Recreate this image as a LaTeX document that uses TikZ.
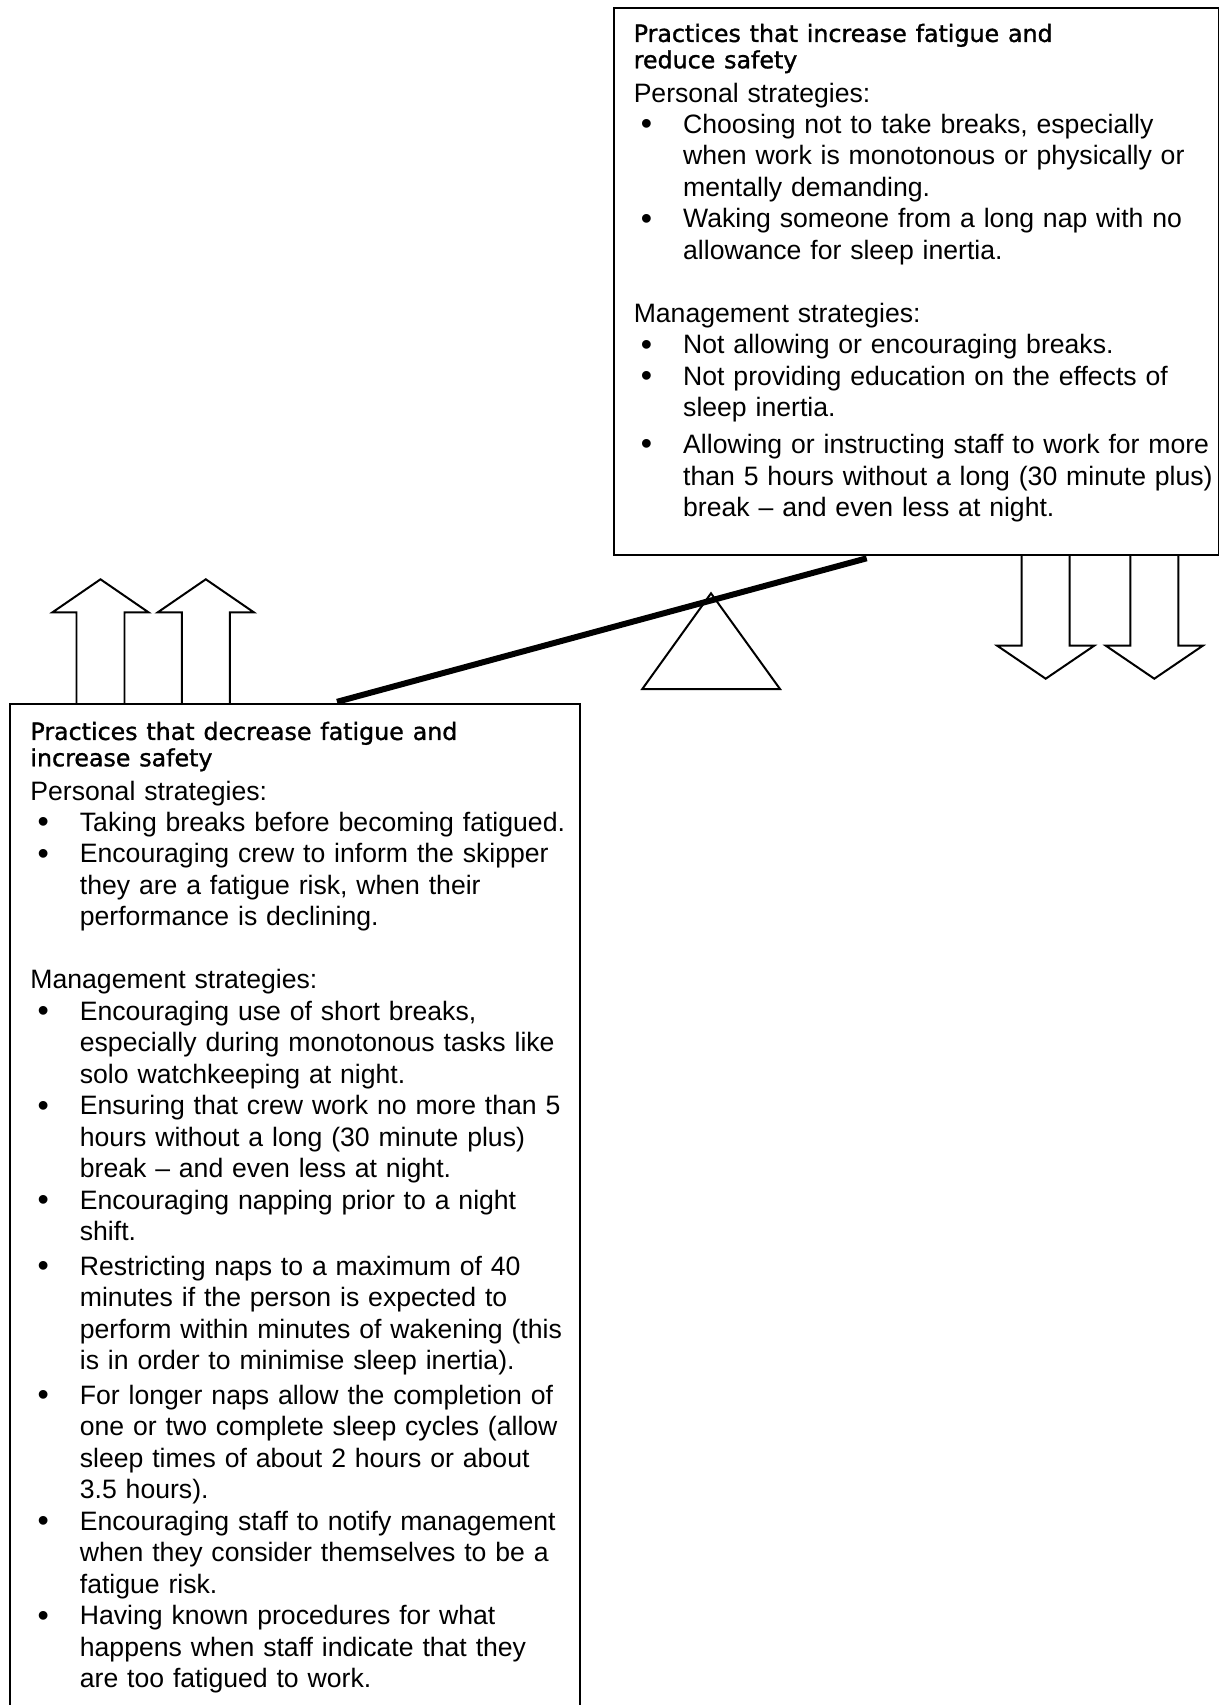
\documentclass[tikz,border=0pt]{standalone}
\usepackage{fontspec}
\setmainfont{Liberation Sans}
\newfontfamily\headfont[FakeBold=1.3]{DejaVu Sans}
\usetikzlibrary{calc, positioning}

% bullet item with hanging indent
\newcommand{\fitem}{\par\hangindent=22.3pt\hangafter=1\noindent\makebox[22.3pt][l]{\hspace{3.2pt}\raisebox{-0.6pt}{\fontsize{14.5}{14.5}\selectfont\textbullet}}}
% two-line panel heading
\newcommand{\panelhead}[2]{{\headfont\fontsize{10.7}{11.9}\selectfont\rule{0pt}{10pt}#1\newline #2\par}\vspace{1pt}}

\begin{document}
\begin{tikzpicture}[x=0.451pt, y=-0.451pt,
  panel/.style={draw, line width=0.9pt, inner sep=0pt, anchor=north west},
  paneltext/.style={anchor=north west, inner sep=0pt, text width=300pt, align=left,
    font={\fontsize{12}{14.2}\selectfont\parindent=0pt\parskip=0pt}},
  hollow/.style={draw, line width=0.9pt, line join=miter},
  beam/.style={line width=2.7pt}]

\useasboundingbox (0,0) rectangle (1219,1705);
\clip (0,0) rectangle (1219,1705);

% Panels
\node[panel, minimum width=272.5pt, minimum height=246.7pt] (incr) at (613.3,7.3) {};
\node[panel, minimum width=257.1pt, minimum height=470pt] (decr) at (9.3,703.3) {};

% Increase fatigue
\node[paneltext] (incrtext) at ($(incr.north west)+(20,12)$) {%
\panelhead{Practices that increase fatigue and}{reduce safety}
Personal strategies:
\fitem Choosing not to take breaks, especially\newline when work is monotonous or physically or\newline mentally demanding.
\fitem Waking someone from a long nap with no\newline allowance for sleep inertia.
\par\mbox{}\par
Management strategies:
\fitem Not allowing or encouraging breaks.
\fitem Not providing education on the effects of\newline sleep inertia.
\par\vspace{2.4pt}
\fitem Allowing or instructing staff to work for more\newline than 5 hours without a long (30 minute plus)\newline break – and even less at night.\par};

% Decrease fatigue
\node[paneltext] (decrtext) at ($(decr.north west)+(20.7,14)$) {%
\panelhead{Practices that decrease fatigue and}{increase safety}
Personal strategies:
\fitem Taking breaks before becoming fatigued.
\fitem Encouraging crew to inform the skipper\newline they are a fatigue risk, when their\newline performance is declining.
\par\mbox{}\par
Management strategies:
\fitem Encouraging use of short breaks,\newline especially during monotonous tasks like\newline solo watchkeeping at night.
\fitem Ensuring that crew work no more than 5\newline hours without a long (30 minute plus)\newline break – and even less at night.
\fitem Encouraging napping prior to a night\newline shift.
\par\vspace{1.4pt}
\fitem Restricting naps to a maximum of 40\newline minutes if the person is expected to\newline perform within minutes of wakening (this\newline is in order to minimise sleep inertia).
\par\vspace{1.4pt}
\fitem For longer naps allow the completion of\newline one or two complete sleep cycles (allow\newline sleep times of about 2 hours or about\newline 3.5 hours).
\fitem Encouraging staff to notify management\newline when they consider themselves to be a\newline fatigue risk.
\fitem Having known procedures for what\newline happens when staff indicate that they\newline are too fatigued to work.\par};

% Up arrows
\foreach \cx in {100.5,205.8}
  \draw[hollow] (\cx-24,703.3) -- (\cx-24,612.3) -- (\cx-48,612.3) -- (\cx,579.3)
    -- (\cx+48,612.3) -- (\cx+24,612.3) -- (\cx+24,703.3);

% Down arrows
\foreach \cx in {1045.7,1154.3}
  \draw[hollow] (\cx-24,554.3) -- (\cx-24,645.7) -- (\cx-48.5,645.7) -- (\cx,678.7)
    -- (\cx+48.5,645.7) -- (\cx+24,645.7) -- (\cx+24,554.3);

% Seesaw
\coordinate (pivot) at (711,593.3);
\coordinate (beamL) at ($(decr.north west)+(327.7,-1.5)$);
\coordinate (beamR) at ($(incr.south west)+(253.4,2)$);
\draw[hollow] (pivot) -- (642.3,689) -- (780,689) -- cycle;
\draw[beam] (beamL) -- (beamR);

\end{tikzpicture}
\end{document}
